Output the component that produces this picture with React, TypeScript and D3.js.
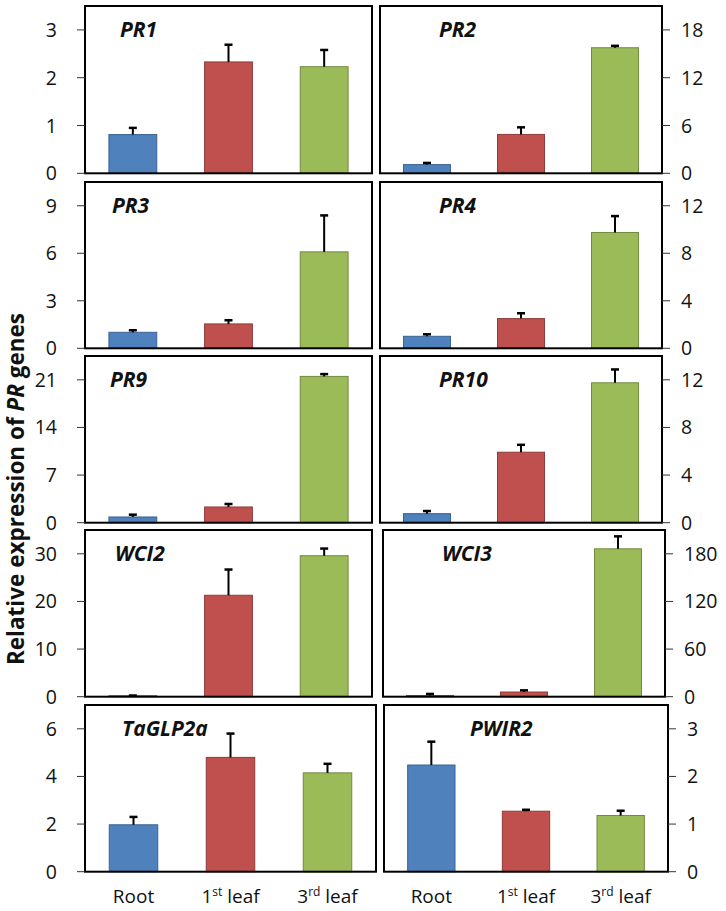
import React from "react";
import * as d3 from "d3";

const categories = ["Root", "1st leaf", "3rd leaf"];
const genes = ["PR1", "PR2", "PR3", "PR4", "PR9", "PR10", "WCI2", "WCI3", "TaGLP2a", "PWIR2"];
const pr1 = [0.81, 2.33, 2.23];
const pr1Err = [0.14, 0.36, 0.35];
const pr2 = [1.09, 4.88, 15.76];
const pr2Err = [0.21, 0.89, 0.24];
const pr3 = [1.01, 1.54, 6.09];
const pr3Err = [0.13, 0.23, 2.3];
const pr4 = [1.01, 2.5, 9.75];
const pr4Err = [0.17, 0.45, 1.38];
const pr9 = [0.84, 2.31, 21.5];
const pr9Err = [0.34, 0.44, 0.34];
const pr10 = [0.76, 5.92, 11.75];
const pr10Err = [0.22, 0.62, 1.12];
const wci2 = [0.2, 21.3, 29.6];
const wci2Err = [0.05, 5.4, 1.5];
const wci3 = [1.5, 5.9, 186.3];
const wci3Err = [2.0, 2.1, 15.7];
const taglp2a = [1.97, 4.8, 4.15];
const taglp2aErr = [0.33, 1.0, 0.38];
const pwir2 = [2.24, 1.27, 1.18];
const pwir2Err = [0.49, 0.03, 0.1];
const tickSteps = [1, 6, 3, 4, 7, 4, 10, 60, 2, 1];

const means = [pr1, pr2, pr3, pr4, pr9, pr10, wci2, wci3, taglp2a, pwir2];
const errs = [pr1Err, pr2Err, pr3Err, pr4Err, pr9Err, pr10Err, wci2Err, wci3Err, taglp2aErr, pwir2Err];

const fills = ["#4F81BD", "#C0504D", "#9BBB59"];
const strokes = ["#3A6293", "#8E3B39", "#72893F"];

// panel layout: [x0, x1, yTop, yZero, titleX]
const layout = [
  [85, 372, 6, 173.3, 120],
  [380, 662, 6, 173.3, 439],
  [85, 372, 182, 348.3, 112],
  [380, 662, 182, 348.3, 439],
  [85, 372, 356, 522.7, 110],
  [380, 662, 356, 522.7, 439],
  [85, 372, 530, 696.7, 115],
  [383, 665, 530, 696.7, 442],
  [85, 376, 705, 871.7, 122],
  [384, 668, 705, 871.7, 470],
];

const FONT = "'Open Sans', sans-serif";

function Panel({ i }: { i: number }) {
  const [x0, x1, yTop, yZero, titleX] = layout[i];
  const right = i % 2 === 1;
  const step = tickSteps[i];
  const y = d3.scaleLinear().domain([0, step * 3.5]).range([yZero, yTop]);
  const x = d3.scaleBand<string>().domain(categories).range([x0, x1]).paddingInner(0.5).paddingOuter(0.25);
  const ticks = d3.range(0, 4).map((k) => k * step);
  const bottomRow = i >= 8;
  return (
    <g>
      {categories.map((c, j) => {
        const v = means[i][j];
        const e = errs[i][j];
        const cx = (x(c) as number) + x.bandwidth() / 2;
        return (
          <g key={c}>
            <rect x={x(c)} y={y(v)} width={x.bandwidth()} height={yZero - y(v)} fill={fills[j]} stroke={strokes[j]} strokeWidth={1} />
            <line x1={cx} x2={cx} y1={y(v)} y2={y(v + e)} stroke="#000" strokeWidth={2} />
            <line x1={cx - 4} x2={cx + 4} y1={y(v + e)} y2={y(v + e)} stroke="#000" strokeWidth={2.5} />
          </g>
        );
      })}
      <rect x={x0} y={yTop} width={x1 - x0} height={yZero - yTop} fill="none" stroke="#000" strokeWidth={2} />
      {ticks.map((t) => (
        <g key={t}>
          <line
            x1={right ? x1 : x0 - 8}
            x2={right ? x1 + 8 : x0}
            y1={y(t)}
            y2={y(t)}
            stroke="#333"
            strokeWidth={1}
          />
          <text
            x={right ? x1 + 19 : x0 - 28}
            y={y(t)}
            dy="0.36em"
            textAnchor={right ? "start" : "end"}
            fontFamily={FONT}
            fontSize={19.5}
            fill="#111"
          >
            {t}
          </text>
        </g>
      ))}
      <text x={titleX} y={yTop + 31} fontFamily={FONT} fontSize={21} fontWeight="bold" fontStyle="italic" fill="#111">
        {genes[i]}
      </text>
      {bottomRow &&
        categories.map((c) => {
          const cx = (x(c) as number) + x.bandwidth() / 2;
          const m = c.match(/^(\d)(st|rd)( leaf)$/);
          return (
            <text key={c} x={cx} y={903} textAnchor="middle" fontFamily={FONT} fontSize={19} fill="#111">
              {m ? (
                <>
                  <tspan>{m[1]}</tspan>
                  <tspan fontSize={12} dy={-7}>{m[2]}</tspan>
                  <tspan dy={7}>{m[3]}</tspan>
                </>
              ) : (
                c
              )}
            </text>
          );
        })}
    </g>
  );
}

export default function App() {
  return (
    <svg width={726} height={911} style={{ position: "absolute", left: 0, top: 0, background: "#fff" }}>
      <rect width={726} height={911} fill="#fff" />
      {genes.map((g, i) => (
        <Panel key={g} i={i} />
      ))}
      <text
        transform="translate(24,489) rotate(-90)"
        textAnchor="middle"
        fontFamily={FONT}
        fontSize={22.5}
        fontWeight="bold"
        fill="#111"
      >
        Relative expression of <tspan fontStyle="italic">PR</tspan> genes
      </text>
    </svg>
  );
}
